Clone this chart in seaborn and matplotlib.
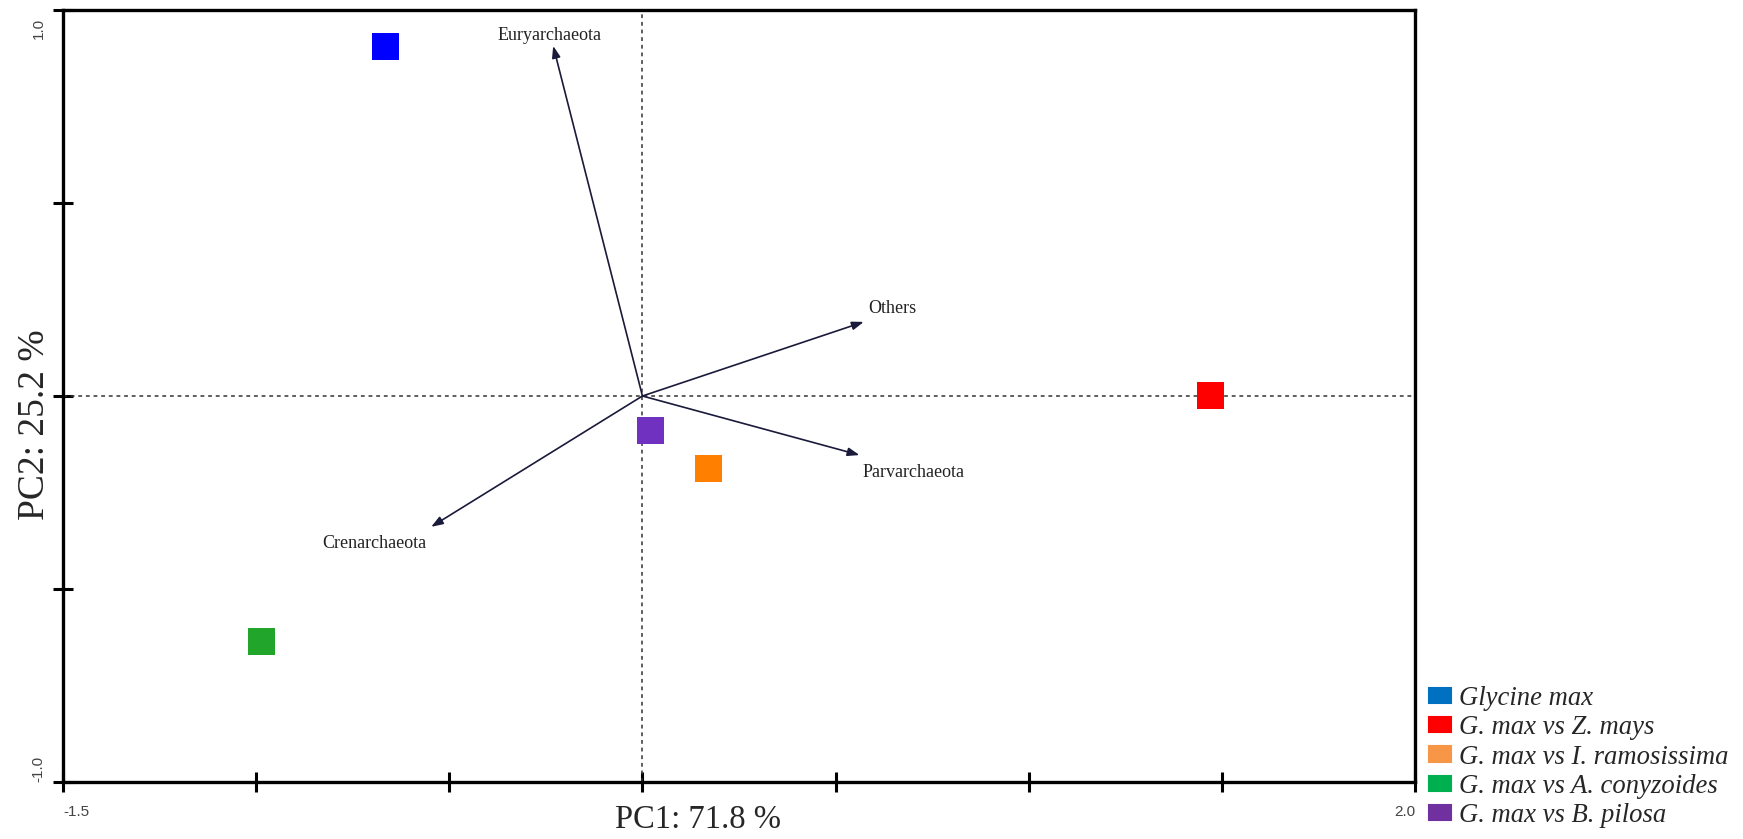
import numpy as np
import pandas as pd
import matplotlib
matplotlib.use("Agg")
import matplotlib.pyplot as plt
import seaborn as sns
from matplotlib.patches import Patch

# Sample scores on the first two principal components
groups = ["Glycine max", "G. max vs Z. mays", "G. max vs I. ramosissima",
          "G. max vs A. conyzoides", "G. max vs B. pilosa"]
pc1 = [-0.664, 1.470, 0.171, -0.987, 0.022]
pc2 = [0.905, 0.002, -0.189, -0.636, -0.089]

# Phylum loadings (biplot arrows)
phyla = ["Euryarchaeota", "Others", "Parvarchaeota", "Crenarchaeota"]
load_x = [-0.231, 0.573, 0.562, -0.547]
load_y = [0.907, 0.192, -0.153, -0.339]

# Axis titles and range ends
x_title = "PC1: 71.8 %"
y_title = "PC2: 25.2 %"
x_end_labels = ["-1.5", "2.0"]
y_end_labels = ["-1.0", "1.0"]

marker_colors = ["#0000FF", "#FF0000", "#FF8000", "#21A62B", "#7030C0"]
legend_colors = ["#0070C0", "#FF0000", "#F79646", "#00B050", "#7030A0"]

sns.set_style("white")
plt.rcParams["font.family"] = ["Liberation Serif", "DejaVu Serif"]

fig = plt.figure(figsize=(17.43, 8.39), dpi=100)
ax = fig.add_axes([63 / 1743, 1 - 782 / 839, (1415 - 63) / 1743, (782 - 10) / 839])

df = pd.DataFrame({"PC1": pc1, "PC2": pc2, "group": groups})

# Reference lines through the origin
ax.axhline(0, color="#333333", lw=1.1, ls=(0, (2.5, 2.5)), zorder=1)
ax.axvline(0, color="#333333", lw=1.1, ls=(0, (2.5, 2.5)), zorder=1)

# Loading arrows with their labels
label_offsets = [(-4, 10, "center"), (4, 13, "left"), (3, -17, "left"), (-57, -17, "center")]
for name, lx, ly, (dx, dy, ha) in zip(phyla, load_x, load_y, label_offsets):
    ax.annotate("", xy=(lx, ly), xytext=(0, 0),
                arrowprops=dict(arrowstyle="-|>,head_length=0.7,head_width=0.25",
                                color="#1A1A3A", lw=1.2, shrinkA=0, shrinkB=0),
                zorder=2)
    ax.annotate(name, xy=(lx, ly), xytext=(dx, dy), textcoords="offset pixels",
                ha=ha, va="center", fontsize=13, color="#222222", zorder=3)

# Sample points
sns.scatterplot(data=df, x="PC1", y="PC2", hue="group", hue_order=groups,
                palette=marker_colors, marker="s", s=380, linewidth=0,
                legend=False, ax=ax, zorder=4)

ax.set_xlim(-1.5, 2.0)
ax.set_ylim(-1.0, 1.0)
ax.set_xlabel("")
ax.set_ylabel("")
ax.set_xticks(np.arange(-1.5, 2.01, 0.5))
ax.set_yticks(np.arange(-1.0, 1.01, 0.5))
ax.set_xticklabels([])
ax.set_yticklabels([])
ax.tick_params(axis="both", direction="inout", length=14, width=2.2,
               color="black", bottom=True, left=True)
for sp in ax.spines.values():
    sp.set_linewidth(2.4)
    sp.set_color("black")

# End labels of the axes
tick_font = dict(family=["Liberation Sans", "DejaVu Sans"], fontsize=11, color="#444444")
ax.text(0.0, -0.03, x_end_labels[0], transform=ax.transAxes, ha="left", va="top", **tick_font)
ax.text(1.0, -0.03, x_end_labels[1], transform=ax.transAxes, ha="right", va="top", **tick_font)
ax.text(-0.018, 0.0, y_end_labels[0], transform=ax.transAxes, ha="center", va="bottom",
        rotation=90, **tick_font)
ax.text(-0.018, 0.99, y_end_labels[1], transform=ax.transAxes, ha="center", va="top",
        rotation=90, **tick_font)

fig.text(698 / 1743, 1 - 820 / 839, x_title, ha="center", va="center", fontsize=23.5)
fig.text(35 / 1743, 1 - 425 / 839, y_title, ha="center", va="center", rotation=90, fontsize=27)

handles = [Patch(facecolor=c, edgecolor=c, linewidth=1.5, joinstyle="round") for c in legend_colors]
fig.legend(handles, groups, loc="upper left", bbox_to_anchor=(1429 / 1743, 1 - 686 / 839),
           frameon=False, prop=dict(family=["Liberation Serif"], style="italic", size=19.2),
           handlelength=0.82, handleheight=0.5, handletextpad=0.3, labelspacing=0.16,
           borderpad=0, borderaxespad=0)

fig.savefig("out.png", dpi=100)
